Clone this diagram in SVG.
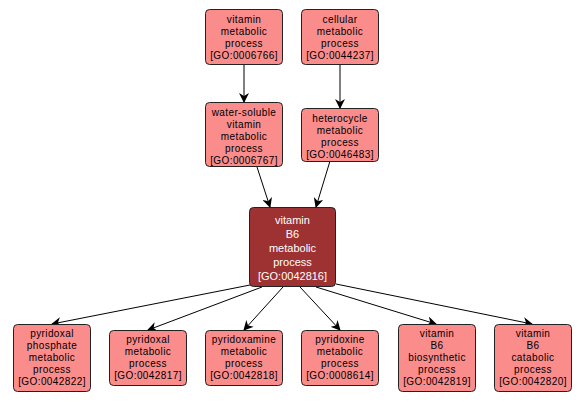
<svg xmlns="http://www.w3.org/2000/svg" width="586" height="402" viewBox="0 0 586 402">
<style>
.n rect{fill:#fa8c8c;stroke:#222;stroke-width:1}
.c rect{fill:#9e3131;stroke:#222;stroke-width:1}
text{font-family:"Liberation Sans",Arial,sans-serif;font-size:10px;text-anchor:middle;fill:#000;letter-spacing:0.4px}
.c text{fill:#fff;font-size:11px;letter-spacing:0}
.e line{stroke:#000;stroke-width:1;marker-end:url(#a)}
</style>
<defs>
<marker id="a" markerWidth="10" markerHeight="10" refX="9" refY="5" orient="auto" markerUnits="userSpaceOnUse">
<path d="M0,0 L10,5 L0,10 L3,5 Z" fill="#000"/>
</marker>
</defs>
<rect width="586" height="402" fill="#fff"/>
<g class="e">
<line x1="244" y1="65" x2="244" y2="102"/>
<line x1="340" y1="65" x2="340" y2="108"/>
<line x1="257" y1="167" x2="270" y2="207"/>
<line x1="330" y1="161" x2="316" y2="207"/>
<line x1="250" y1="285" x2="52" y2="324"/>
<line x1="262" y1="287" x2="148" y2="330"/>
<line x1="283" y1="287" x2="244" y2="330"/>
<line x1="300" y1="287" x2="340" y2="330"/>
<line x1="316" y1="287" x2="436" y2="324"/>
<line x1="336" y1="284" x2="532" y2="324"/>
</g>
<g id="n1" class="n"><rect x="205.5" y="9.5" width="77" height="55" rx="4"/>
<text x="244" y="23">vitamin</text><text x="244" y="35">metabolic</text><text x="244" y="47">process</text><text x="244" y="59">[GO:0006766]</text></g>
<g id="n2" class="n"><rect x="301.5" y="9.5" width="77" height="55" rx="4"/>
<text x="340" y="23">cellular</text><text x="340" y="35">metabolic</text><text x="340" y="47">process</text><text x="340" y="59">[GO:0044237]</text></g>
<g id="n3" class="n"><rect x="205.5" y="102.5" width="77" height="64" rx="4"/>
<text x="244" y="116">water-soluble</text><text x="244" y="128">vitamin</text><text x="244" y="140">metabolic</text><text x="244" y="152">process</text><text x="244" y="164">[GO:0006767]</text></g>
<g id="n4" class="n"><rect x="301.5" y="108.5" width="77" height="53" rx="4"/>
<text x="340" y="122">heterocycle</text><text x="340" y="134">metabolic</text><text x="340" y="146">process</text><text x="340" y="158">[GO:0046483]</text></g>
<g id="n5" class="c"><rect x="249.5" y="207.5" width="86" height="79" rx="4"/>
<text x="292.5" y="224">vitamin</text><text x="292.5" y="238">B6</text><text x="292.5" y="252">metabolic</text><text x="292.5" y="266">process</text><text x="292.5" y="280">[GO:0042816]</text></g>
<g id="n6" class="n"><rect x="13.5" y="324.5" width="77" height="67" rx="4"/>
<text x="52" y="337">pyridoxal</text><text x="52" y="349">phosphate</text><text x="52" y="361">metabolic</text><text x="52" y="373">process</text><text x="52" y="385">[GO:0042822]</text></g>
<g id="n7" class="n"><rect x="109.5" y="330.5" width="77" height="55" rx="4"/>
<text x="148" y="343">pyridoxal</text><text x="148" y="355">metabolic</text><text x="148" y="367">process</text><text x="148" y="379">[GO:0042817]</text></g>
<g id="n8" class="n"><rect x="205.5" y="330.5" width="77" height="55" rx="4"/>
<text x="244" y="343">pyridoxamine</text><text x="244" y="355">metabolic</text><text x="244" y="367">process</text><text x="244" y="379">[GO:0042818]</text></g>
<g id="n9" class="n"><rect x="301.5" y="330.5" width="77" height="55" rx="4"/>
<text x="340" y="343">pyridoxine</text><text x="340" y="355">metabolic</text><text x="340" y="367">process</text><text x="340" y="379">[GO:0008614]</text></g>
<g id="n10" class="n"><rect x="398.5" y="324.5" width="77" height="67" rx="4"/>
<text x="437" y="337">vitamin</text><text x="437" y="349">B6</text><text x="437" y="361">biosynthetic</text><text x="437" y="373">process</text><text x="437" y="385">[GO:0042819]</text></g>
<g id="n11" class="n"><rect x="494.5" y="324.5" width="77" height="67" rx="4"/>
<text x="533" y="337">vitamin</text><text x="533" y="349">B6</text><text x="533" y="361">catabolic</text><text x="533" y="373">process</text><text x="533" y="385">[GO:0042820]</text></g>
</svg>
